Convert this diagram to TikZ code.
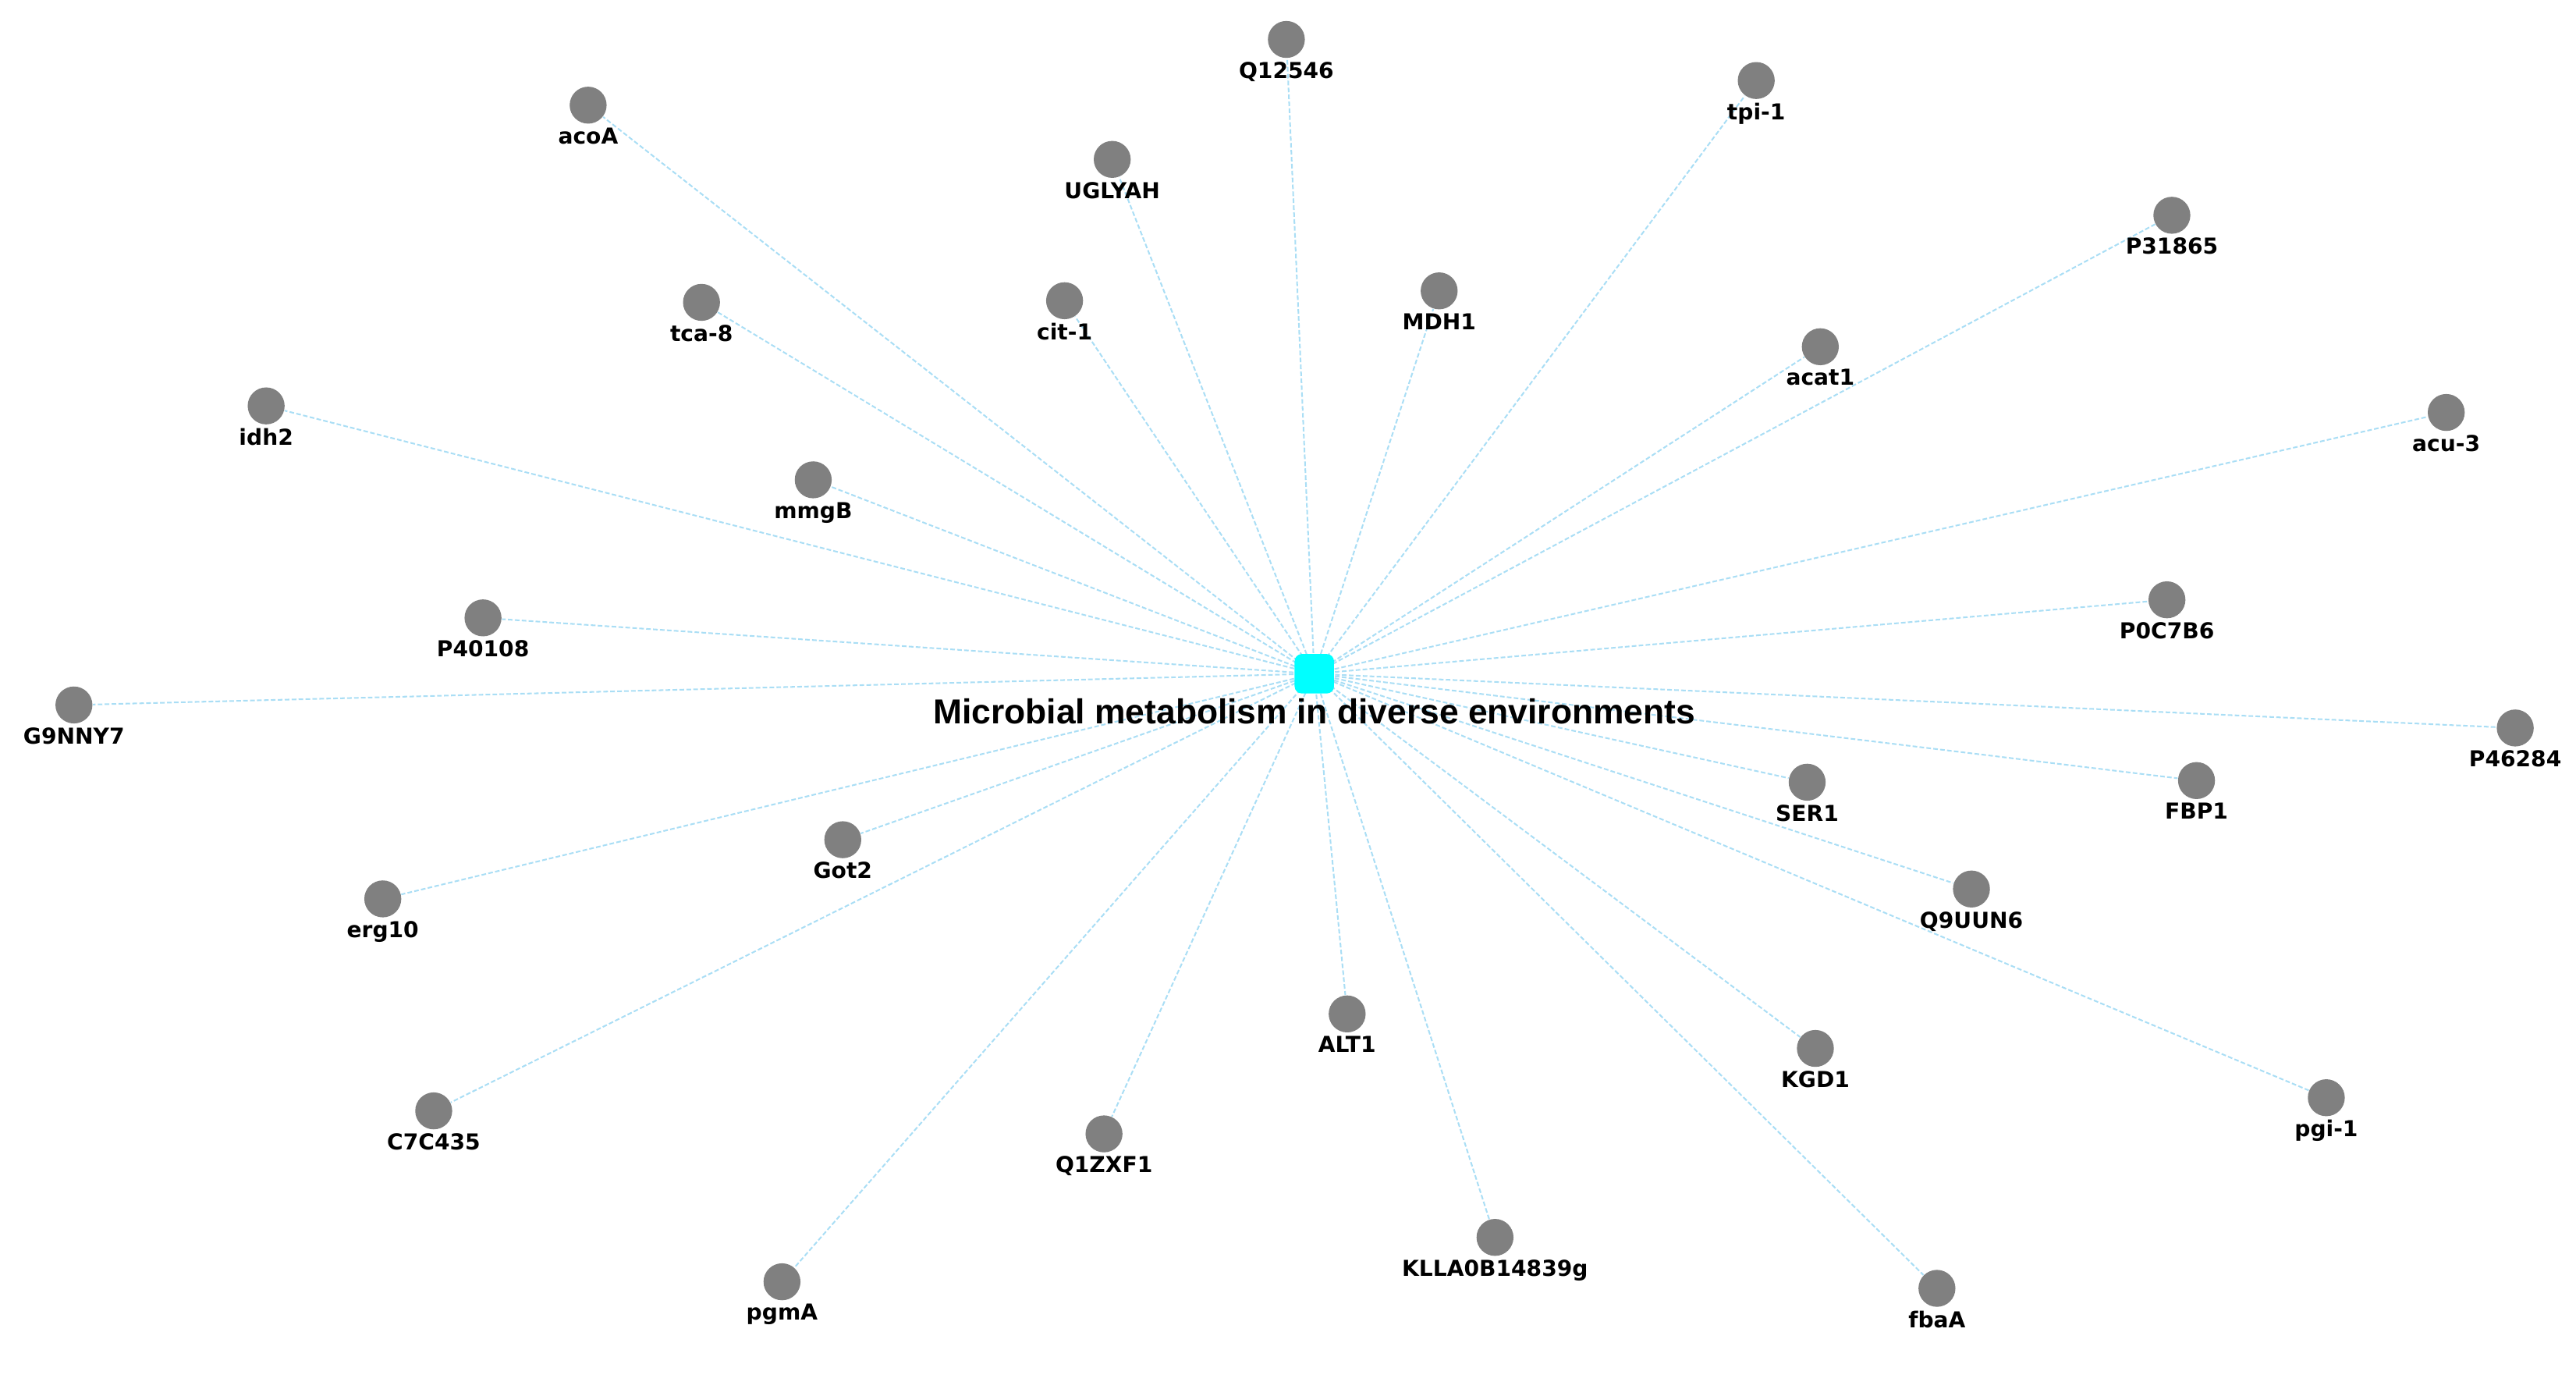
\documentclass[tikz,border=0pt]{standalone}
\usepackage{fontspec}
\setmainfont{Liberation Sans}
\newfontfamily\lblfont{DejaVu Sans}
\usetikzlibrary{backgrounds}
\definecolor{edgeblue}{RGB}{170,222,245}
\definecolor{nodegray}{RGB}{128,128,128}
\definecolor{hubcyan}{RGB}{0,255,255}
\tikzset{
  gene/.style={circle,fill=nodegray,draw=none,minimum size=0.45cm,inner sep=0pt,
    label={[genelbl]below:#1}},
  genelbl/.style={font=\lblfont\bfseries\fontsize{7.6}{8}\selectfont,inner sep=0pt,label distance=1pt,text=black},
  hub/.style={rectangle,rounded corners=2.5pt,fill=hubcyan,draw=none,minimum size=0.48cm,inner sep=0pt},
  hublbl/.style={font=\bfseries\fontsize{12}{14}\selectfont,inner sep=0pt,text=black},
  link/.style={draw=edgeblue,line width=0.55pt,dash pattern=on 1.6pt off 0.8pt}
}
\begin{document}
\begin{tikzpicture}[x=0.02cm,y=-0.02cm]
\useasboundingbox (0,0) rectangle (1568,845);
\node[hub] (hub) at (800,410) {};
\node[hublbl] (hubtext) at (800,433) {Microbial metabolism in diverse environments};
\node[gene=Q12546] (n1) at (783,24) {};
\node[gene=tpi-1] (n2) at (1069,49) {};
\node[gene=acoA] (n3) at (358,64) {};
\node[gene=UGLYAH] (n4) at (677,97) {};
\node[gene=P31865] (n5) at (1322,131) {};
\node[gene=tca-8] (n6) at (427,184) {};
\node[gene=cit-1] (n7) at (648,183) {};
\node[gene=MDH1] (n8) at (876,177) {};
\node[gene=acat1] (n9) at (1108,211) {};
\node[gene=idh2] (n10) at (162,247) {};
\node[gene=acu-3] (n11) at (1489,251) {};
\node[gene=mmgB] (n12) at (495,292) {};
\node[gene=P0C7B6] (n13) at (1319,365) {};
\node[gene=P40108] (n14) at (294,376) {};
\node[gene=G9NNY7] (n15) at (45,429) {};
\node[gene=P46284] (n16) at (1531,443) {};
\node[gene=SER1] (n17) at (1100,476) {};
\node[gene=FBP1] (n18) at (1337,475) {};
\node[gene=Got2] (n19) at (513,511) {};
\node[gene=erg10] (n20) at (233,547) {};
\node[gene=Q9UUN6] (n21) at (1200,541) {};
\node[gene=ALT1] (n22) at (820,617) {};
\node[gene=KGD1] (n23) at (1105,638) {};
\node[gene=pgi-1] (n24) at (1416,668) {};
\node[gene=C7C435] (n25) at (264,676) {};
\node[gene=Q1ZXF1] (n26) at (672,690) {};
\node[gene=KLLA0B14839g] (n27) at (910,753) {};
\node[gene=pgmA] (n28) at (476,780) {};
\node[gene=fbaA] (n29) at (1179,784) {};
\begin{pgfonlayer}{background}
\foreach \i in {1,...,29} {\draw[link] (hub.center) -- (n\i);}
\end{pgfonlayer}
\end{tikzpicture}
\end{document}
